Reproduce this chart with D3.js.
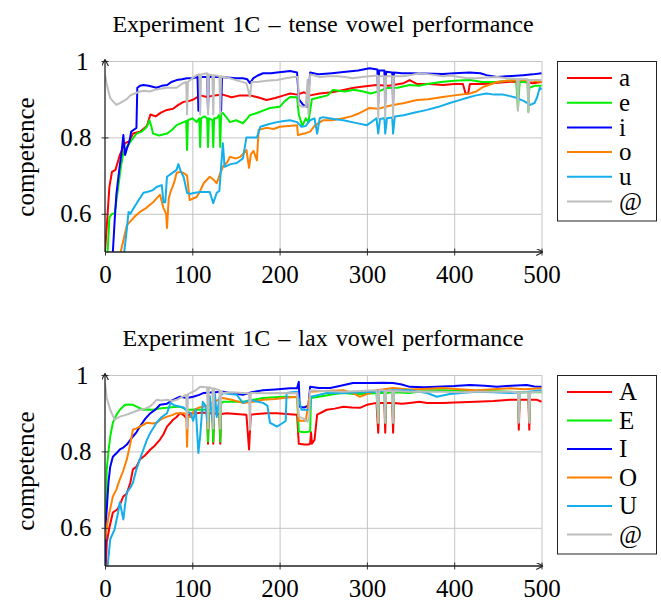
<!DOCTYPE html>
<meta charset="utf-8">
<html>
<head>
<style>
  body { margin: 0; background: #fff; }
  .grid line { stroke: #c4c4c4; stroke-width: 1; }
  .grid path { display: none; }
  .axis path { display: none; }
  .axis line { stroke: #333; }
</style>
</head>
<body>
<script src="https://cdn.jsdelivr.net/npm/d3@7"></script>
<script>
var xTicks = [0, 100, 200, 300, 400, 500];
var yTicks = [0.6, 0.8, 1];
var tenseLabels = ["a", "e", "i", "o", "u", "@"];
var laxLabels = ["A", "E", "I", "O", "U", "@"];
var colors = ["#ff0000", "#00ee00", "#0000ff", "#ff8000", "#14aeea", "#bdbdbd"];
var serif = "'Liberation Serif', 'Times New Roman', serif";

// tense vowels, [epoch, competence]
var tenseA = [[0,0.5],[3,0.6],[5,0.67],[8,0.71],[12,0.715],[17,0.754],[20,0.77],[23,0.785],[28,0.79],[32,0.81],[40,0.815],[48,0.83],[52,0.86],[58,0.855],[64,0.865],[71,0.872],[78,0.875],[84,0.885],[90,0.893],[96,0.895],[102,0.9],[109,0.91],[117,0.906],[125,0.91],[135,0.912],[145,0.905],[155,0.91],[166,0.91],[175,0.905],[185,0.898],[195,0.903],[205,0.91],[212,0.915],[220,0.912],[228,0.918],[235,0.91],[246,0.915],[260,0.918],[273,0.924],[285,0.93],[296,0.933],[311,0.937],[325,0.935],[342,0.942],[349,0.95],[357,0.94],[372,0.94],[387,0.937],[400,0.94],[410,0.94],[413,0.915],[416,0.915],[418,0.94],[433,0.94],[450,0.943],[464,0.946],[480,0.945],[490,0.942],[500,0.945]];
var tenseE = [[3,0.5],[5,0.59],[8,0.6],[11,0.6],[15,0.667],[18,0.72],[21,0.76],[25,0.775],[29,0.788],[36,0.81],[42,0.815],[48,0.828],[51,0.845],[53,0.83],[55,0.81],[62,0.805],[71,0.81],[77,0.82],[82,0.832],[90,0.84],[93,0.843],[94,0.767],[95,0.845],[100,0.85],[105,0.84],[108,0.85],[109,0.775],[110,0.85],[114,0.855],[117,0.85],[118,0.775],[119,0.85],[123,0.845],[124,0.775],[125,0.85],[128,0.85],[131,0.86],[132,0.775],[133,0.862],[135,0.864],[140,0.85],[143,0.84],[150,0.845],[158,0.837],[163,0.85],[166,0.858],[174,0.864],[181,0.87],[189,0.877],[200,0.88],[206,0.895],[212,0.906],[220,0.905],[222,0.86],[226,0.83],[230,0.85],[233,0.84],[237,0.9],[246,0.905],[255,0.91],[261,0.924],[275,0.92],[285,0.925],[296,0.92],[304,0.915],[313,0.92],[322,0.929],[335,0.93],[349,0.937],[360,0.935],[369,0.94],[385,0.945],[400,0.948],[418,0.95],[432,0.945],[449,0.945],[460,0.948],[471,0.95],[473,0.872],[475,0.945],[484,0.945],[485,0.867],[486,0.93],[492,0.935],[500,0.935]];
var tenseI = [[9,0.5],[11,0.58],[13,0.65],[15,0.69],[17,0.728],[19,0.76],[21,0.806],[23,0.754],[25,0.77],[28,0.79],[30,0.815],[33,0.82],[36,0.825],[37,0.93],[40,0.935],[44,0.937],[50,0.935],[59,0.93],[65,0.935],[71,0.937],[76,0.945],[82,0.95],[88,0.952],[94,0.955],[100,0.955],[106,0.958],[107,0.87],[108,0.958],[117,0.958],[118,0.87],[119,0.958],[126,0.958],[132,0.958],[133,0.87],[134,0.958],[140,0.957],[150,0.955],[158,0.955],[163,0.952],[166,0.942],[170,0.955],[175,0.962],[181,0.968],[190,0.968],[197,0.97],[205,0.972],[212,0.974],[220,0.97],[222,0.9],[227,0.885],[232,0.88],[235,0.97],[245,0.965],[260,0.968],[273,0.971],[290,0.975],[303,0.981],[312,0.978],[313,0.89],[314,0.975],[320,0.975],[321,0.89],[322,0.972],[329,0.97],[330,0.89],[331,0.97],[340,0.968],[349,0.968],[365,0.967],[387,0.966],[400,0.968],[418,0.97],[430,0.968],[437,0.963],[449,0.958],[460,0.96],[479,0.963],[490,0.965],[500,0.968]];
var tenseO = [[18,0.5],[22,0.54],[25,0.57],[29,0.58],[35,0.595],[40,0.605],[47,0.615],[55,0.63],[63,0.65],[67,0.615],[70,0.6],[71,0.563],[73,0.64],[75,0.657],[79,0.68],[82,0.707],[86,0.71],[90,0.707],[94,0.70],[97,0.636],[101,0.64],[105,0.644],[109,0.66],[113,0.68],[120,0.697],[124,0.69],[128,0.68],[131,0.7],[135,0.723],[140,0.735],[143,0.749],[150,0.745],[155,0.749],[162,0.767],[165,0.72],[167,0.755],[170,0.765],[174,0.74],[176,0.82],[185,0.825],[193,0.822],[200,0.828],[210,0.83],[220,0.832],[221,0.806],[228,0.81],[235,0.815],[240,0.83],[250,0.845],[260,0.845],[273,0.85],[282,0.855],[292,0.864],[303,0.877],[313,0.875],[321,0.88],[330,0.885],[343,0.89],[357,0.898],[370,0.9],[387,0.906],[400,0.91],[418,0.915],[425,0.92],[433,0.932],[449,0.945],[460,0.948],[476,0.95],[490,0.948],[500,0.945]];
var tenseU = [[22,0.5],[25,0.56],[27,0.605],[29,0.60],[33,0.615],[37,0.63],[44,0.655],[48,0.657],[55,0.662],[59,0.67],[65,0.675],[67,0.63],[69,0.63],[71,0.697],[76,0.705],[82,0.715],[84,0.73],[87,0.71],[90,0.697],[94,0.655],[97,0.652],[103,0.655],[109,0.657],[116,0.657],[120,0.657],[124,0.628],[128,0.655],[131,0.66],[135,0.785],[137,0.723],[144,0.73],[151,0.733],[158,0.745],[162,0.8],[168,0.8],[174,0.8],[178,0.828],[188,0.835],[197,0.84],[205,0.843],[212,0.845],[220,0.84],[225,0.828],[230,0.83],[235,0.845],[240,0.85],[243,0.81],[246,0.85],[250,0.853],[262,0.848],[273,0.845],[287,0.838],[300,0.832],[305,0.84],[311,0.85],[313,0.81],[315,0.848],[320,0.85],[321,0.81],[323,0.85],[329,0.852],[330,0.81],[332,0.855],[342,0.858],[355,0.865],[369,0.872],[382,0.88],[395,0.89],[405,0.897],[414,0.903],[425,0.91],[437,0.915],[446,0.912],[456,0.912],[464,0.908],[472,0.903],[480,0.895],[487,0.885],[492,0.89],[495,0.905],[498,0.93],[500,0.925]];
var tenseAt = [[0,0.963],[2,0.94],[4,0.92],[6,0.903],[9,0.895],[13,0.885],[17,0.89],[21,0.895],[25,0.9],[29,0.91],[34,0.915],[40,0.92],[45,0.922],[51,0.92],[58,0.925],[65,0.928],[71,0.93],[77,0.93],[82,0.93],[88,0.94],[93,0.945],[94,0.86],[95,0.945],[100,0.955],[105,0.963],[108,0.965],[109,0.86],[110,0.965],[117,0.968],[118,0.86],[119,0.965],[123,0.963],[124,0.86],[125,0.963],[131,0.96],[132,0.86],[133,0.96],[143,0.955],[150,0.95],[162,0.942],[166,0.906],[168,0.945],[174,0.945],[185,0.948],[197,0.95],[207,0.955],[216,0.958],[221,0.958],[222,0.885],[226,0.88],[230,0.88],[232,0.95],[233,0.86],[235,0.965],[246,0.958],[255,0.96],[266,0.96],[275,0.958],[284,0.955],[294,0.958],[303,0.96],[312,0.962],[313,0.85],[314,0.96],[320,0.96],[321,0.85],[322,0.96],[329,0.96],[330,0.85],[331,0.96],[342,0.96],[350,0.963],[360,0.968],[372,0.965],[387,0.96],[395,0.962],[406,0.958],[415,0.955],[425,0.955],[437,0.957],[449,0.958],[460,0.955],[472,0.953],[473,0.87],[474,0.953],[484,0.952],[485,0.865],[486,0.95],[492,0.95],[500,0.95]];

// lax vowels
var laxA = [[1,0.5],[2,0.562],[5,0.6],[9,0.64],[14,0.648],[17,0.66],[21,0.682],[25,0.69],[29,0.718],[32,0.753],[36,0.76],[40,0.779],[46,0.79],[52,0.805],[57,0.815],[63,0.831],[67,0.845],[71,0.865],[75,0.875],[78,0.883],[82,0.89],[86,0.9],[90,0.895],[94,0.885],[97,0.9],[105,0.9],[112,0.902],[117,0.9],[118,0.82],[119,0.9],[123,0.9],[124,0.82],[125,0.9],[131,0.898],[132,0.82],[133,0.898],[140,0.9],[150,0.898],[162,0.896],[165,0.805],[167,0.896],[174,0.898],[185,0.9],[197,0.9],[208,0.898],[220,0.896],[222,0.82],[228,0.818],[233,0.818],[235,0.82],[236,0.85],[237,0.82],[240,0.83],[243,0.896],[254,0.909],[263,0.912],[273,0.917],[283,0.915],[292,0.914],[300,0.922],[311,0.927],[313,0.849],[314,0.927],[320,0.927],[321,0.849],[322,0.927],[329,0.927],[330,0.849],[331,0.927],[340,0.925],[349,0.927],[360,0.93],[369,0.927],[387,0.927],[400,0.928],[425,0.93],[445,0.932],[464,0.935],[473,0.935],[474,0.857],[475,0.935],[485,0.935],[486,0.857],[487,0.935],[495,0.935],[500,0.93]];
var laxE = [[0,0.55],[2,0.753],[4,0.8],[6,0.839],[9,0.875],[13,0.895],[17,0.909],[23,0.922],[28,0.923],[32,0.922],[38,0.915],[44,0.909],[50,0.91],[55,0.909],[62,0.912],[71,0.914],[79,0.916],[86,0.917],[93,0.91],[98,0.909],[105,0.91],[112,0.909],[117,0.909],[118,0.826],[119,0.909],[123,0.91],[124,0.826],[125,0.91],[131,0.915],[132,0.826],[133,0.925],[135,0.93],[145,0.93],[158,0.93],[170,0.935],[181,0.94],[195,0.942],[204,0.943],[220,0.942],[222,0.852],[228,0.85],[235,0.852],[236,0.94],[250,0.945],[263,0.95],[273,0.953],[285,0.95],[296,0.95],[311,0.953],[313,0.875],[314,0.953],[320,0.953],[321,0.875],[322,0.953],[329,0.955],[330,0.875],[331,0.955],[349,0.953],[360,0.957],[372,0.96],[387,0.96],[410,0.958],[440,0.958],[464,0.956],[473,0.955],[474,0.88],[475,0.955],[485,0.955],[486,0.88],[487,0.955],[500,0.955]];
var laxI = [[0,0.5],[1,0.62],[2,0.648],[4,0.72],[6,0.76],[9,0.786],[13,0.795],[17,0.805],[21,0.81],[25,0.818],[29,0.83],[32,0.839],[36,0.85],[40,0.865],[46,0.885],[52,0.9],[58,0.91],[63,0.922],[71,0.925],[78,0.935],[86,0.943],[94,0.94],[101,0.943],[108,0.948],[113,0.953],[125,0.955],[135,0.956],[145,0.952],[158,0.948],[168,0.955],[181,0.96],[195,0.962],[212,0.965],[220,0.965],[222,0.982],[223,0.917],[228,0.915],[233,0.92],[235,0.969],[245,0.966],[258,0.966],[270,0.972],[284,0.979],[303,0.979],[318,0.98],[330,0.979],[340,0.975],[349,0.969],[365,0.968],[380,0.969],[400,0.971],[418,0.974],[435,0.972],[449,0.969],[465,0.972],[483,0.974],[492,0.97],[500,0.969]];
var laxO = [[0,0.57],[2,0.6],[4,0.63],[7,0.66],[9,0.682],[13,0.7],[17,0.727],[21,0.75],[25,0.779],[29,0.82],[32,0.857],[36,0.86],[40,0.865],[48,0.875],[55,0.873],[59,0.875],[65,0.885],[71,0.891],[77,0.895],[82,0.9],[90,0.9],[93,0.898],[94,0.812],[95,0.89],[98,0.89],[103,0.91],[108,0.915],[118,0.92],[125,0.93],[135,0.94],[145,0.935],[158,0.927],[170,0.93],[181,0.935],[195,0.937],[204,0.94],[220,0.943],[222,0.88],[230,0.88],[235,0.956],[250,0.958],[273,0.96],[285,0.952],[292,0.943],[300,0.95],[311,0.96],[330,0.966],[349,0.962],[370,0.964],[387,0.966],[410,0.962],[425,0.96],[445,0.963],[464,0.965],[480,0.963],[500,0.965]];
var laxU = [[3,0.5],[6,0.57],[11,0.596],[15,0.64],[17,0.667],[21,0.622],[23,0.66],[25,0.693],[29,0.705],[32,0.718],[36,0.753],[40,0.78],[44,0.805],[48,0.83],[52,0.849],[55,0.86],[59,0.875],[65,0.89],[71,0.9],[75,0.927],[80,0.92],[86,0.917],[90,0.915],[94,0.905],[98,0.9],[101,0.88],[104,0.91],[107,0.796],[109,0.84],[112,0.93],[115,0.92],[117,0.88],[120,0.945],[122,0.9],[124,0.87],[126,0.95],[128,0.89],[131,0.94],[135,0.953],[143,0.95],[151,0.948],[158,0.927],[166,0.935],[175,0.93],[181,0.927],[186,0.92],[189,0.875],[197,0.865],[204,0.875],[207,0.88],[208,0.953],[214,0.955],[220,0.956],[225,0.909],[235,0.909],[236,0.943],[254,0.953],[273,0.953],[292,0.955],[311,0.956],[330,0.96],[349,0.96],[369,0.953],[380,0.943],[395,0.95],[425,0.956],[445,0.955],[464,0.953],[480,0.955],[500,0.96]];
var laxAt = [[0,0.98],[2,0.94],[6,0.909],[11,0.883],[17,0.891],[23,0.895],[29,0.9],[35,0.905],[40,0.909],[46,0.912],[51,0.917],[55,0.925],[59,0.935],[65,0.933],[71,0.935],[77,0.932],[82,0.935],[90,0.945],[93,0.948],[94,0.86],[95,0.95],[98,0.953],[104,0.96],[109,0.969],[115,0.968],[117,0.968],[118,0.86],[119,0.968],[123,0.965],[124,0.86],[125,0.965],[131,0.96],[132,0.86],[133,0.958],[135,0.953],[145,0.955],[158,0.953],[165,0.952],[166,0.857],[167,0.953],[174,0.953],[185,0.952],[197,0.953],[210,0.952],[220,0.953],[222,0.891],[228,0.885],[232,0.878],[234,0.89],[235,0.96],[250,0.958],[273,0.956],[292,0.958],[311,0.96],[313,0.875],[314,0.96],[320,0.96],[321,0.875],[322,0.958],[329,0.958],[330,0.875],[331,0.958],[349,0.956],[369,0.957],[387,0.956],[410,0.955],[425,0.956],[445,0.956],[464,0.956],[473,0.955],[474,0.875],[475,0.955],[485,0.955],[486,0.875],[487,0.955],[500,0.956]];

var svg = d3.select("body").append("svg")
    .attr("width", 661)
    .attr("height", 604)
    .style("font-family", serif);

var defs = svg.append("defs");
defs.append("marker")
    .attr("id", "arrow")
    .attr("viewBox", "0 0 10 10")
    .attr("refX", 9).attr("refY", 5)
    .attr("markerWidth", 7).attr("markerHeight", 7)
    .attr("markerUnits", "userSpaceOnUse")
    .attr("orient", "auto")
  .append("path")
    .attr("d", "M0,0 L10,5 L0,10")
    .attr("fill", "none")
    .attr("stroke", "#222")
    .attr("stroke-width", 1.6);

var width = 436.5, height = 191;

function panel(id, top, title, series, labels, legendGap) {
  var x = d3.scaleLinear().domain([0, 500]).range([0, width]);
  var y = d3.scaleLinear().domain([0.5, 1]).range([height, 0]);

  var g = svg.append("g")
      .attr("transform", "translate(105," + top + ")");

  defs.append("clipPath").attr("id", "clip" + id)
    .append("rect").attr("x", 0).attr("y", -2).attr("width", width + 1).attr("height", height + 2);

  svg.append("text")
      .attr("x", 323).attr("y", top - 29)
      .attr("text-anchor", "middle")
      .style("font-family", serif)
      .style("font-size", "24px")
      .style("word-spacing", "2px")
      .text(title);

  // grid
  g.append("g").attr("class", "grid")
      .attr("transform", "translate(0," + height + ")")
      .call(d3.axisBottom(x).tickValues(xTicks.slice(1)).tickSize(-height).tickFormat(""));
  g.append("g").attr("class", "grid")
      .call(d3.axisLeft(y).tickValues(yTicks).tickSize(-width).tickFormat(""));

  var line = d3.line()
      .x(function(d) { return x(d[0]); })
      .y(function(d) { return y(d[1]); });

  g.append("g").attr("clip-path", "url(#clip" + id + ")")
    .selectAll("path")
    .data(series)
    .enter()
    .append("path")
      .attr("d", line)
      .attr("fill", "none")
      .attr("stroke", function(d, i) { return colors[i]; })
      .attr("stroke-width", 2)
      .attr("stroke-linejoin", "round");

  // axes with arrows
  var xAxis = g.append("g").attr("class", "axis")
      .attr("transform", "translate(0," + height + ")")
      .call(d3.axisBottom(x).tickValues(xTicks).tickSize(3.5).tickPadding(10));
  xAxis.selectAll(".tick line").attr("y1", -3.5);
  xAxis.selectAll(".tick text")
      .attr("dy", "0.7em")
      .style("font-family", serif)
      .style("font-size", "25px")
      .style("fill", "#000");

  var yAxis = g.append("g").attr("class", "axis")
      .call(d3.axisLeft(y).tickValues(yTicks).tickSize(3.5).tickPadding(10)
        .tickFormat(function(d) { return d === 1 ? "1" : d3.format(".1f")(d); }));
  yAxis.selectAll(".tick line").attr("x1", 3.5);
  yAxis.selectAll(".tick text")
      .attr("dx", function(d) { return d === 1 ? "-3px" : "0"; })
      .style("font-family", serif)
      .style("font-size", "25px")
      .style("fill", "#000");

  g.append("line")
      .attr("x1", 0).attr("y1", height).attr("x2", width + 1).attr("y2", height)
      .attr("stroke", "#222").attr("stroke-width", 1.3)
      .attr("marker-end", "url(#arrow)");
  g.append("line")
      .attr("x1", 0).attr("y1", height).attr("x2", 0).attr("y2", -1)
      .attr("stroke", "#222").attr("stroke-width", 1.3)
      .attr("marker-end", "url(#arrow)");

  svg.append("text")
      .attr("transform", "translate(34," + (top + 96) + ") rotate(-90)")
      .attr("text-anchor", "middle")
      .style("font-family", serif)
      .style("font-size", "25px")
      .text("competence");

  // legend
  var leg = svg.append("g").attr("transform", "translate(557," + top + ")");
  leg.append("rect")
      .attr("x", 0.5).attr("y", 0.5)
      .attr("width", 99).attr("height", 17 + legendGap * 5 + 19)
      .attr("fill", "#fff").attr("stroke", "#222").attr("stroke-width", 1);
  var item = leg.selectAll(".item")
      .data(labels)
      .enter()
      .append("g")
      .attr("transform", function(d, i) { return "translate(0," + (17 + i * legendGap) + ")"; });
  item.append("line")
      .attr("x1", 10).attr("x2", 55)
      .attr("stroke", function(d, i) { return colors[i]; })
      .attr("stroke-width", 2);
  item.append("text")
      .attr("x", 62).attr("dy", "0.33em")
      .style("font-family", serif)
      .style("font-size", "25px")
      .text(function(d) { return d; });
}

panel("t", 61, "Experiment 1C \u2013 tense vowel performance",
  [tenseA, tenseE, tenseI, tenseO, tenseU, tenseAt], tenseLabels, 24.7);
panel("l", 375, "Experiment 1C \u2013 lax vowel performance",
  [laxA, laxE, laxI, laxO, laxU, laxAt], laxLabels, 28.5);
</script>
</body>
</html>
